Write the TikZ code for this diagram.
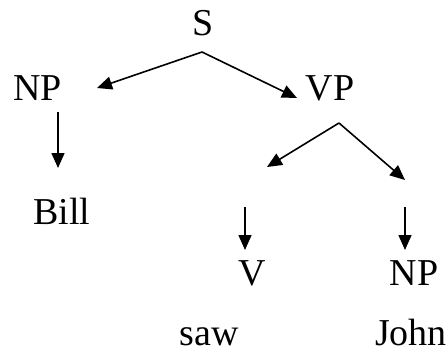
\documentclass[tikz,border=0pt]{standalone}
\usepackage{fontspec}
\setmainfont{Liberation Serif}
\usetikzlibrary{arrows.meta}
\begin{document}
\begin{tikzpicture}[
		x=1pt, y=-1pt,
		palavra/.style={
			anchor=base,
			inner sep=0pt,
			font=\fontsize{38}{40}\selectfont
		},
		seta/.style={
			-{Triangle[length=15pt, width=13pt]},
			line width=1.6pt
		}
		]
		\useasboundingbox (0,0) rectangle (448,354);
		
		\node[palavra] (S) at (203,35) {S};
		\node[palavra] (NP1) at (37.5,100) {NP};
		\node[palavra] (VP) at (330,100) {VP};
		\node[palavra] (Bill) at (62,224) {Bill};
		\node[palavra] (V) at (252,285) {V};
		\node[palavra] (NP2) at (414,285) {NP};
		\node[palavra] (saw) at (209,345) {saw};
		\node[palavra] (John) at (411,345) {John};
		
		%Pontos
		\coordinate (topoS) at (202,52);
		\coordinate (fimNP1) at (97,88);
		\coordinate (fimVP) at (297,98);
		\coordinate (iniBill) at (58,112);
		\coordinate (fimBill) at (58,168);
		\coordinate (topoVP) at (339,123);
		\coordinate (fimV1) at (267,167);
		\coordinate (fimNP2) at (405,180);
		\coordinate (iniV) at (245,207);
		\coordinate (fimV) at (245,250);
		\coordinate (iniJohn) at (405,207);
		\coordinate (fimJohn) at (405,250);
		
		%Linhas
		\draw[seta] (topoS) -- (fimNP1);
		\draw[seta] (topoS) -- (fimVP);
		\draw[seta] (iniBill) -- (fimBill);
		\draw[seta] (topoVP) -- (fimV1);
		\draw[seta] (topoVP) -- (fimNP2);
		\draw[seta] (iniV) -- (fimV);
		\draw[seta] (iniJohn) -- (fimJohn);
		
	\end{tikzpicture}
\end{document}
